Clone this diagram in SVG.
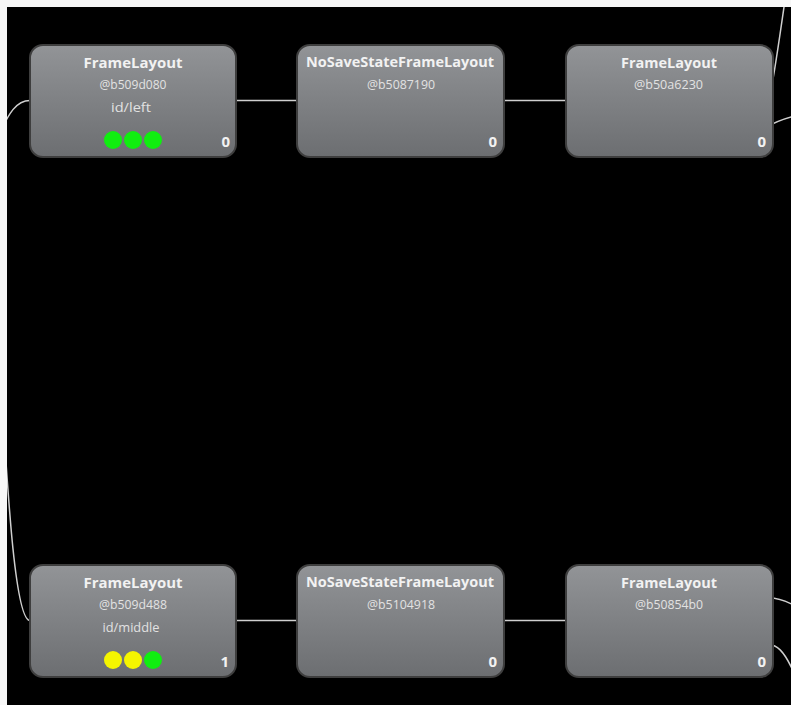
<svg xmlns="http://www.w3.org/2000/svg" width="791" height="705" viewBox="0 0 791 705">
  <defs>
    <linearGradient id="nodeFill" x1="0" y1="0" x2="0" y2="1">
      <stop offset="0" stop-color="#929497"/>
      <stop offset="1" stop-color="#6c6e71"/>
    </linearGradient>
    <clipPath id="canvasClip">
      <rect x="7" y="7" width="784" height="698"/>
    </clipPath>
    <style>
      .node rect.box { fill: url(#nodeFill); stroke: #3e3e3e; stroke-width: 2; }
      .title { font-family: "Open Sans", "DejaVu Sans", sans-serif; font-weight: bold; font-size: 13.5px; fill: #f2f2f2; text-anchor: middle; }
      .sub { font-family: "Open Sans", "DejaVu Sans", sans-serif; font-size: 12px; fill: #e2e2e2; text-anchor: middle; }
      .count { font-family: "Open Sans", "DejaVu Sans", sans-serif; font-weight: bold; font-size: 15px; fill: #f2f2f2; text-anchor: end; }
      .conn path { fill: none; stroke: #cfcfcf; stroke-width: 1.5; }
      .green { fill: #10ee10; }
      .yellow { fill: #f5f500; }
    </style>
  </defs>

  <rect x="0" y="0" width="791" height="705" fill="#f7f7f7"/>
  <rect x="7" y="7" width="784" height="698" fill="#000000"/>

  <g id="connectors" class="conn" clip-path="url(#canvasClip)">
    <path d="M-27.5,159 C1.25,159 1.25,100.5 30,100.5"/>
    <path d="M-27.5,159 C1.25,159 1.25,620.5 30,620.5"/>
    <path d="M236,100.5 L297,100.5"/>
    <path d="M504,100.5 L566,100.5"/>
    <path d="M236,620.5 L297,620.5"/>
    <path d="M504,620.5 L566,620.5"/>
    <path d="M771,90 C775,70 780,35 785,0"/>
    <path d="M765,128 Q778,120 795,116"/>
    <path d="M766,598 Q780,597 795,606"/>
    <path d="M766,645 C776,643 784,650 795,675"/>
  </g>

  <g id="node-b509d080" class="node">
    <rect class="box" x="30" y="45" width="206" height="112" rx="13"/>
    <text class="title" x="133" y="68" textLength="99" lengthAdjust="spacingAndGlyphs">FrameLayout</text>
    <text class="sub" x="133" y="89" textLength="67" lengthAdjust="spacingAndGlyphs">@b509d080</text>
    <text class="sub" x="131" y="112" textLength="40" lengthAdjust="spacingAndGlyphs">id/left</text>
    <circle class="green" cx="113" cy="140" r="9"/>
    <circle class="green" cx="133" cy="140" r="9"/>
    <circle class="green" cx="153" cy="140" r="9"/>
    <text class="count" x="230" y="147">0</text>
  </g>

  <g id="node-b5087190" class="node">
    <rect class="box" x="297" y="45" width="207" height="112" rx="13"/>
    <text class="title" x="400" y="67" textLength="188" lengthAdjust="spacingAndGlyphs">NoSaveStateFrameLayout</text>
    <text class="sub" x="401" y="89" textLength="68" lengthAdjust="spacingAndGlyphs">@b5087190</text>
    <text class="count" x="497" y="147">0</text>
  </g>

  <g id="node-b50a6230" class="node">
    <rect class="box" x="566" y="45" width="207" height="112" rx="13"/>
    <text class="title" x="669" y="68" textLength="96" lengthAdjust="spacingAndGlyphs">FrameLayout</text>
    <text class="sub" x="668.5" y="89" textLength="69" lengthAdjust="spacingAndGlyphs">@b50a6230</text>
    <text class="count" x="766" y="147">0</text>
  </g>

  <g id="node-b509d488" class="node">
    <rect class="box" x="30" y="565" width="206" height="112" rx="13"/>
    <text class="title" x="133" y="588" textLength="99" lengthAdjust="spacingAndGlyphs">FrameLayout</text>
    <text class="sub" x="133" y="609" textLength="68" lengthAdjust="spacingAndGlyphs">@b509d488</text>
    <text class="sub" x="131" y="632" textLength="57" lengthAdjust="spacingAndGlyphs">id/middle</text>
    <circle class="yellow" cx="113" cy="660" r="9"/>
    <circle class="yellow" cx="133" cy="660" r="9"/>
    <circle class="green" cx="153" cy="660" r="9"/>
    <text class="count" x="229" y="667">1</text>
  </g>

  <g id="node-b5104918" class="node">
    <rect class="box" x="297" y="565" width="207" height="112" rx="13"/>
    <text class="title" x="400" y="587" textLength="188" lengthAdjust="spacingAndGlyphs">NoSaveStateFrameLayout</text>
    <text class="sub" x="401" y="609" textLength="68" lengthAdjust="spacingAndGlyphs">@b5104918</text>
    <text class="count" x="497" y="667">0</text>
  </g>

  <g id="node-b50854b0" class="node">
    <rect class="box" x="566" y="565" width="207" height="112" rx="13"/>
    <text class="title" x="669" y="588" textLength="96" lengthAdjust="spacingAndGlyphs">FrameLayout</text>
    <text class="sub" x="669" y="609" textLength="68" lengthAdjust="spacingAndGlyphs">@b50854b0</text>
    <text class="count" x="766" y="667">0</text>
  </g>
</svg>
